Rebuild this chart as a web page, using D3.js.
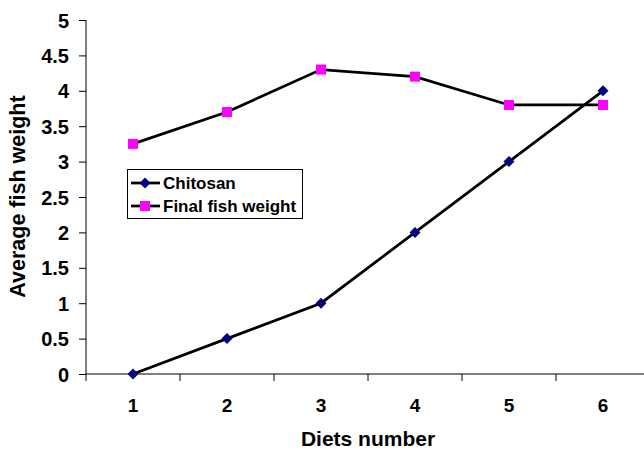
<!DOCTYPE html>
<html><head><meta charset="utf-8">
<script src="https://cdn.jsdelivr.net/npm/d3@7"></script>
<style>body{margin:0;background:#fff}svg{display:block}</style>
</head><body>
<script>
const categories = ["1","2","3","4","5","6"];
const chitosan = [0, 0.5, 1, 2, 3, 4];
const finalWeight = [3.25, 3.7, 4.3, 4.2, 3.8, 3.8];
const yTicks = [0,0.5,1,1.5,2,2.5,3,3.5,4,4.5,5];
const seriesNames = ["Chitosan","Final fish weight"];

const FONT="'Liberation Sans', Arial, sans-serif";
const W=644,H=450;
const svg=d3.select("body").append("svg").attr("width",W).attr("height",H)
  .attr("font-family",FONT).attr("font-weight","700");
const x=d3.scaleBand().domain(categories).range([86,650]);
const y=d3.scaleLinear().domain([0,5]).range([374,20]);

// y axis
const ya=svg.append("g").attr("transform","translate(86,0)")
  .call(d3.axisLeft(y).tickValues(yTicks).tickFormat(d=>String(d)).tickSize(7).tickPadding(10));
ya.attr("font-family",FONT).attr("font-weight","700");
ya.select(".domain").attr("d","M0,20V381").attr("stroke","#000").attr("stroke-width",1);
ya.selectAll("text").attr("font-size","20px").attr("fill","#000").attr("dy","0.35em");

// x axis
const xa=svg.append("g").attr("transform","translate(0,374)");
xa.append("line").attr("x1",86).attr("x2",650).attr("y1",0).attr("y2",0).attr("stroke","#000");
categories.forEach(c=>{
  const bx=x(c)+x.bandwidth();
  xa.append("line").attr("x1",bx).attr("x2",bx).attr("y1",0).attr("y2",7).attr("stroke","#000");
  xa.append("text").attr("x",x(c)+x.bandwidth()/2).attr("y",38).attr("text-anchor","middle")
    .attr("font-size","19px").text(c);
});

svg.append("text").attr("x",368).attr("y",446).attr("text-anchor","middle").attr("font-size","21px").text("Diets number");
svg.append("text").attr("transform","translate(25,196.5) rotate(-90)").attr("text-anchor","middle").attr("font-size","21.5px").text("Average fish weight");

const cx=i=>x(categories[i])+x.bandwidth()/2;
const line=d3.line().x((d,i)=>cx(i)).y(d=>y(d));
[finalWeight,chitosan].forEach(s=>{
  svg.append("path").attr("d",line(s)).attr("fill","none").attr("stroke","#000").attr("stroke-width",2.75);
});
const diamond=(g,px,py)=>g.append("path").attr("d",`M${px},${py-5.5}L${px+5.5},${py}L${px},${py+5.5}L${px-5.5},${py}Z`).attr("fill","#000080");
const square=(g,px,py)=>g.append("rect").attr("x",px-5).attr("y",py-5).attr("width",10).attr("height",10).attr("fill","#FF00FF");
chitosan.forEach((v,i)=>diamond(svg,cx(i),y(v)));
finalWeight.forEach((v,i)=>square(svg,cx(i),y(v)));

// legend
const lg=svg.append("g");
lg.append("rect").attr("x",127.5).attr("y",169.5).attr("width",175).attr("height",49).attr("fill","#fff").attr("stroke","#000");
[[183,diamond],[206,square]].forEach(([ly,fn],i)=>{
  lg.append("line").attr("x1",131).attr("x2",160).attr("y1",ly).attr("y2",ly).attr("stroke","#000").attr("stroke-width",2.75);
  fn(lg,145,ly);
  lg.append("text").attr("x",163).attr("y",ly).attr("dy","0.35em").attr("font-size","17px").text(seriesNames[i]);
});
</script>
</body></html>
